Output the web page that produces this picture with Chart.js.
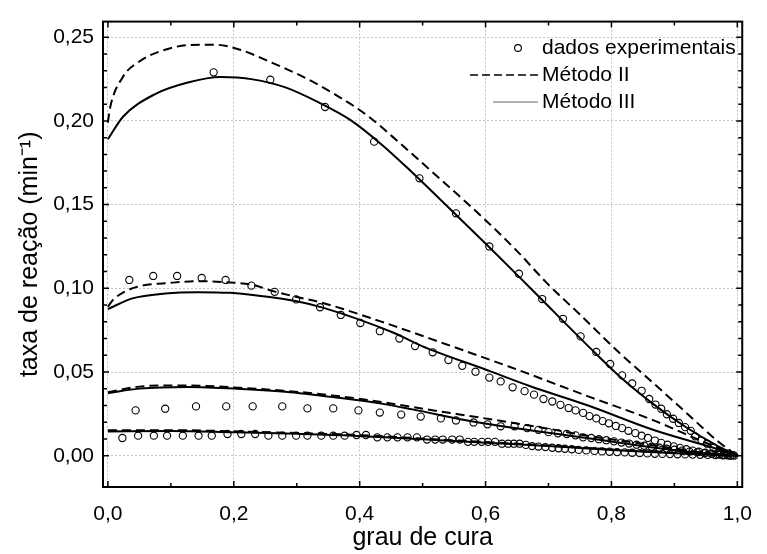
<!DOCTYPE html>
<html>
<head>
<meta charset="utf-8">
<script src="https://cdn.jsdelivr.net/npm/chart.js@4.4.0/dist/chart.umd.min.js"></script>
<style>
  html, body { margin: 0; padding: 0; background: #fff; }
  #wrap { width: 767px; height: 554px; }
</style>
</head>
<body>
<div id="wrap"><canvas id="myChart"></canvas></div>
<script>
// tick labels
const xTicks = [0, 0.2, 0.4, 0.6, 0.8, 1.0];
const yTicks = [0, 0.05, 0.10, 0.15, 0.20, 0.25];

// serie 1 (curva mais alta)
const xExp1 = [0.168, 0.258, 0.345, 0.423, 0.495, 0.553, 0.606, 0.653, 0.690, 0.723, 0.751, 0.776, 0.798, 0.817, 0.833, 0.848, 0.860, 0.870, 0.879, 0.888, 0.898, 0.907, 0.917, 0.926, 0.933, 0.943, 0.952, 0.962, 0.973, 0.984, 0.993];
const yExp1 = [0.229, 0.2246, 0.2083, 0.1876, 0.1657, 0.1448, 0.125, 0.1087, 0.0936, 0.0818, 0.0713, 0.062, 0.0548, 0.048, 0.0432, 0.0388, 0.0339, 0.0306, 0.0281, 0.0248, 0.0221, 0.0196, 0.0171, 0.0149, 0.0116, 0.0091, 0.0072, 0.0048, 0.0029, 0.0013, 0.0004];
const xM2_1 = [0, 0.003, 0.023, 0.05, 0.081, 0.127, 0.17, 0.21, 0.256, 0.308, 0.36, 0.411, 0.463, 0.515, 0.592, 0.652, 0.696, 0.75, 0.814, 0.866, 0.918, 0.969, 1.0];
const yM2_1 = [0.199, 0.207, 0.2258, 0.2355, 0.2413, 0.2452, 0.2455, 0.2425, 0.2355, 0.2267, 0.216, 0.2035, 0.187, 0.1696, 0.1435, 0.1215, 0.1037, 0.0843, 0.061, 0.0436, 0.026, 0.0087, 0];
const xM3_1 = [0, 0.024, 0.075, 0.127, 0.179, 0.23, 0.282, 0.334, 0.385, 0.437, 0.484, 0.515, 0.553, 0.606, 0.653, 0.69, 0.763, 0.814, 0.866, 0.918, 0.969, 1.0];
const yM3_1 = [0.189, 0.2025, 0.216, 0.2229, 0.2262, 0.2248, 0.22, 0.2112, 0.2006, 0.1852, 0.169, 0.1578, 0.144, 0.1245, 0.107, 0.093, 0.0655, 0.047, 0.031, 0.0172, 0.0058, 0];

// serie 2
const xExp2 = [0.034, 0.072, 0.11, 0.149, 0.187, 0.228, 0.265, 0.299, 0.337, 0.37, 0.401, 0.432, 0.463, 0.488, 0.516, 0.541, 0.563, 0.584, 0.606, 0.624, 0.643, 0.662, 0.677, 0.692, 0.706, 0.719, 0.732, 0.743, 0.755, 0.765, 0.776, 0.786, 0.796, 0.807, 0.817, 0.827, 0.838, 0.848, 0.858, 0.869, 0.879, 0.889, 0.899, 0.909, 0.919, 0.929, 0.939, 0.949, 0.959, 0.969, 0.979, 0.989];
const yExp2 = [0.105, 0.1074, 0.1074, 0.1062, 0.105, 0.1016, 0.0979, 0.0934, 0.0887, 0.0841, 0.0793, 0.0744, 0.070, 0.0655, 0.0618, 0.0572, 0.0537, 0.0502, 0.0467, 0.0444, 0.0409, 0.0386, 0.0365, 0.0339, 0.0324, 0.0304, 0.0285, 0.0271, 0.0256, 0.0237, 0.0223, 0.0207, 0.0194, 0.0178, 0.0165, 0.0149, 0.0135, 0.012, 0.0106, 0.0091, 0.0077, 0.0066, 0.0056, 0.0047, 0.0039, 0.0031, 0.0024, 0.0018, 0.0012, 0.0008, 0.0004, 0.0001];
const xM2_2 = [0, 0.008, 0.024, 0.055, 0.091, 0.143, 0.194, 0.23, 0.261, 0.298, 0.339, 0.432, 0.535, 0.639, 0.763, 0.866, 0.944, 1.0];
const yM2_2 = [0.089, 0.093, 0.0975, 0.1017, 0.103, 0.1043, 0.1035, 0.1021, 0.0985, 0.095, 0.0915, 0.0804, 0.0669, 0.053, 0.0355, 0.0213, 0.0087, 0];
const xM3_2 = [0, 0.039, 0.091, 0.143, 0.194, 0.246, 0.298, 0.344, 0.453, 0.499, 0.608, 0.67, 0.763, 0.866, 0.969, 1.0];
const yM3_2 = [0.0876, 0.094, 0.0969, 0.0977, 0.0973, 0.0953, 0.0924, 0.0882, 0.0736, 0.0655, 0.0504, 0.0417, 0.030, 0.0155, 0.0039, 0];

// serie 3
const xExp3 = [0.044, 0.091, 0.14, 0.188, 0.23, 0.277, 0.317, 0.358, 0.398, 0.432, 0.466, 0.497, 0.529, 0.553, 0.581, 0.603, 0.624, 0.646, 0.666, 0.684, 0.7, 0.715, 0.729, 0.743, 0.755, 0.768, 0.78, 0.792, 0.804, 0.816, 0.828, 0.84, 0.852, 0.864, 0.876, 0.888, 0.9, 0.912, 0.924, 0.936, 0.948, 0.96, 0.972, 0.984, 0.995];
const yExp3 = [0.0271, 0.0281, 0.0295, 0.0295, 0.0295, 0.0295, 0.0283, 0.0283, 0.0271, 0.0258, 0.0246, 0.0234, 0.0223, 0.0211, 0.0199, 0.0188, 0.0176, 0.0176, 0.0165, 0.0155, 0.0141, 0.0134, 0.013, 0.0122, 0.011, 0.0106, 0.0099, 0.0093, 0.0086, 0.0079, 0.0073, 0.0066, 0.006, 0.0054, 0.0048, 0.0042, 0.0036, 0.0031, 0.0025, 0.002, 0.0015, 0.0011, 0.0007, 0.0003, 0.0001];
const xM2_3 = [0, 0.05, 0.101, 0.153, 0.205, 0.282, 0.36, 0.437, 0.484, 0.623, 0.695, 0.768, 0.866, 0.95, 1.0];
const yM2_3 = [0.038, 0.0413, 0.042, 0.0417, 0.0407, 0.0388, 0.0359, 0.032, 0.0291, 0.0209, 0.0165, 0.0116, 0.0063, 0.0017, 0];
const xM3_3 = [0, 0.05, 0.127, 0.205, 0.282, 0.36, 0.437, 0.484, 0.582, 0.778, 0.866, 0.95, 1.0];
const yM3_3 = [0.0374, 0.0401, 0.0411, 0.0401, 0.0382, 0.0349, 0.031, 0.0277, 0.0203, 0.0097, 0.005, 0.0013, 0];

// serie 4 (curva mais baixa)
const xExp4 = [0.023, 0.048, 0.073, 0.094, 0.119, 0.144, 0.165, 0.19, 0.212, 0.234, 0.255, 0.277, 0.299, 0.317, 0.339, 0.358, 0.376, 0.395, 0.41, 0.428, 0.444, 0.46, 0.476, 0.491, 0.507, 0.52, 0.532, 0.547, 0.559, 0.572, 0.582, 0.594, 0.604, 0.615, 0.626, 0.636, 0.645, 0.654, 0.664, 0.674, 0.684, 0.695, 0.706, 0.716, 0.726, 0.737, 0.748, 0.76, 0.773, 0.785, 0.797, 0.809, 0.821, 0.833, 0.845, 0.857, 0.869, 0.881, 0.893, 0.905, 0.917, 0.929, 0.941, 0.953, 0.965, 0.977, 0.989];
const yExp4 = [0.0106, 0.012, 0.012, 0.012, 0.012, 0.012, 0.012, 0.013, 0.013, 0.013, 0.012, 0.012, 0.012, 0.012, 0.012, 0.012, 0.012, 0.0124, 0.0124, 0.011, 0.011, 0.011, 0.011, 0.011, 0.0097, 0.0097, 0.0097, 0.0097, 0.0097, 0.0083, 0.0083, 0.0083, 0.0083, 0.0083, 0.0072, 0.0072, 0.0072, 0.0072, 0.0065, 0.0058, 0.0055, 0.0052, 0.0048, 0.0045, 0.0042, 0.0039, 0.0035, 0.0032, 0.0029, 0.0026, 0.0024, 0.0022, 0.002, 0.0018, 0.0016, 0.0014, 0.0012, 0.0011, 0.001, 0.0009, 0.0008, 0.0007, 0.0006, 0.0005, 0.0004, 0.0002, 0.0001];
const xM2_4 = [0, 0.1, 0.2, 0.3, 0.39, 0.5, 0.6, 0.7, 0.8, 0.9, 1.0];
const yM2_4 = [0.0152, 0.0153, 0.0146, 0.0136, 0.0125, 0.0103, 0.0082, 0.0061, 0.0038, 0.0017, 0];
const xM3_4 = [0, 0.1, 0.2, 0.3, 0.39, 0.5, 0.6, 0.7, 0.8, 0.9, 1.0];
const yM3_4 = [0.0145, 0.0148, 0.014, 0.0131, 0.012, 0.0098, 0.0078, 0.0058, 0.0035, 0.0015, 0];

const legendLabels = ['dados experimentais', 'Método II', 'Método III'];

const FONT = "'Liberation Sans', Arial, sans-serif";
const pts = (xs, ys) => xs.map((v, i) => ({ x: v, y: ys[i] }));

function expSet(xs, ys) {
  return {
    data: pts(xs, ys), showLine: false,
    pointStyle: 'circle', pointRadius: 3.6, pointBorderWidth: 1.1,
    pointBorderColor: '#000', pointBackgroundColor: 'rgba(0,0,0,0)'
  };
}
function lineSet(xs, ys, dashed) {
  return {
    data: pts(xs, ys), showLine: true, pointRadius: 0,
    borderColor: '#000', borderWidth: 2,
    borderDash: dashed ? [9, 5] : [],
    cubicInterpolationMode: 'monotone'
  };
}

const datasets = [
  lineSet(xM2_1, yM2_1, true), lineSet(xM3_1, yM3_1, false), expSet(xExp1, yExp1),
  lineSet(xM2_2, yM2_2, true), lineSet(xM3_2, yM3_2, false), expSet(xExp2, yExp2),
  lineSet(xM2_3, yM2_3, true), lineSet(xM3_3, yM3_3, false), expSet(xExp3, yExp3),
  lineSet(xM2_4, yM2_4, true), lineSet(xM3_4, yM3_4, false), expSet(xExp4, yExp4)
];

// moldura, marcas de escala e legenda
const framePlugin = {
  id: 'frame',
  afterDraw(chart) {
    const { ctx, chartArea: a, scales: { x, y } } = chart;
    ctx.save();
    ctx.strokeStyle = '#000';
    ctx.lineWidth = 1.5;
    ctx.beginPath();
    for (let i = 0; i <= 10; i++) {
      const px = x.getPixelForValue(i / 10);
      const len = i % 2 === 0 ? 6 : 4;
      ctx.moveTo(px, a.bottom); ctx.lineTo(px, a.bottom - len);
      ctx.moveTo(px, a.top); ctx.lineTo(px, a.top + len);
    }
    for (let i = 0; i <= 25; i++) {
      const py = y.getPixelForValue(i / 100);
      const len = i % 5 === 0 ? 6 : 4;
      ctx.moveTo(a.left, py); ctx.lineTo(a.left + len, py);
      ctx.moveTo(a.right, py); ctx.lineTo(a.right - len, py);
    }
    ctx.stroke();
    ctx.lineWidth = 2;
    ctx.strokeRect(a.left, a.top, a.width, a.height);

    // legenda
    ctx.font = '21px ' + FONT;
    ctx.fillStyle = '#000';
    ctx.textBaseline = 'middle';
    ctx.textAlign = 'left';
    const tx = 542;
    const rows = [48, 75, 102];
    ctx.lineWidth = 1.1;
    ctx.beginPath();
    ctx.arc(518, rows[0], 3.4, 0, Math.PI * 2);
    ctx.stroke();
    ctx.fillText(legendLabels[0], tx, rows[0]);
    ctx.lineWidth = 1.5;
    ctx.setLineDash([8, 4]);
    ctx.beginPath(); ctx.moveTo(470, rows[1]); ctx.lineTo(538, rows[1]); ctx.stroke();
    ctx.setLineDash([]);
    ctx.fillText(legendLabels[1], tx, rows[1]);
    ctx.strokeStyle = '#666';
    ctx.lineWidth = 1;
    ctx.beginPath(); ctx.moveTo(493, rows[2]); ctx.lineTo(538, rows[2]); ctx.stroke();
    ctx.fillText(legendLabels[2], tx, rows[2]);
    ctx.restore();
  }
};

const ctx = document.getElementById('myChart').getContext('2d');
const chart = new Chart(ctx, {
  type: 'scatter',
  data: { datasets: datasets },
  options: {
    responsive: true,
    maintainAspectRatio: false,
    animation: false,
    devicePixelRatio: 1,
    layout: { padding: { top: 10, right: 10, left: 0, bottom: 0 } },
    plugins: { legend: { display: false }, tooltip: { enabled: false } },
    scales: {
      x: {
        type: 'linear', min: -0.0078, max: 1.0078,
        afterBuildTicks: s => { s.ticks = xTicks.map(v => ({ value: v })); },
        afterFit: s => { s.height = 67; },
        ticks: {
          callback: v => v.toFixed(1).replace('.', ','),
          font: { family: FONT, size: 21 }, color: '#000',
          padding: 15, maxRotation: 0, autoSkip: false
        },
        grid: { color: '#c4c4c4', lineWidth: 1, drawTicks: false },
        border: { display: false, dash: [2, 2] },
        title: {
          display: true, text: 'grau de cura', color: '#000',
          font: { family: FONT, size: 25 }, padding: { top: 0, bottom: 1 }
        }
      },
      y: {
        type: 'linear', min: -0.01865, max: 0.2593,
        afterBuildTicks: s => { s.ticks = yTicks.map(v => ({ value: v })); },
        afterFit: s => { s.width = 103; },
        ticks: {
          callback: v => v.toFixed(2).replace('.', ','),
          font: { family: FONT, size: 21 }, color: '#000',
          padding: 9, autoSkip: false
        },
        grid: { color: '#c4c4c4', lineWidth: 1, drawTicks: false },
        border: { display: false, dash: [2, 2] },
        title: {
          display: true, text: 'taxa de reação (min⁻¹)', color: '#000',
          font: { family: FONT, size: 25 }, padding: { top: 15, bottom: 0 }
        }
      }
    }
  },
  plugins: [framePlugin]
});
</script>
</body>
</html>
